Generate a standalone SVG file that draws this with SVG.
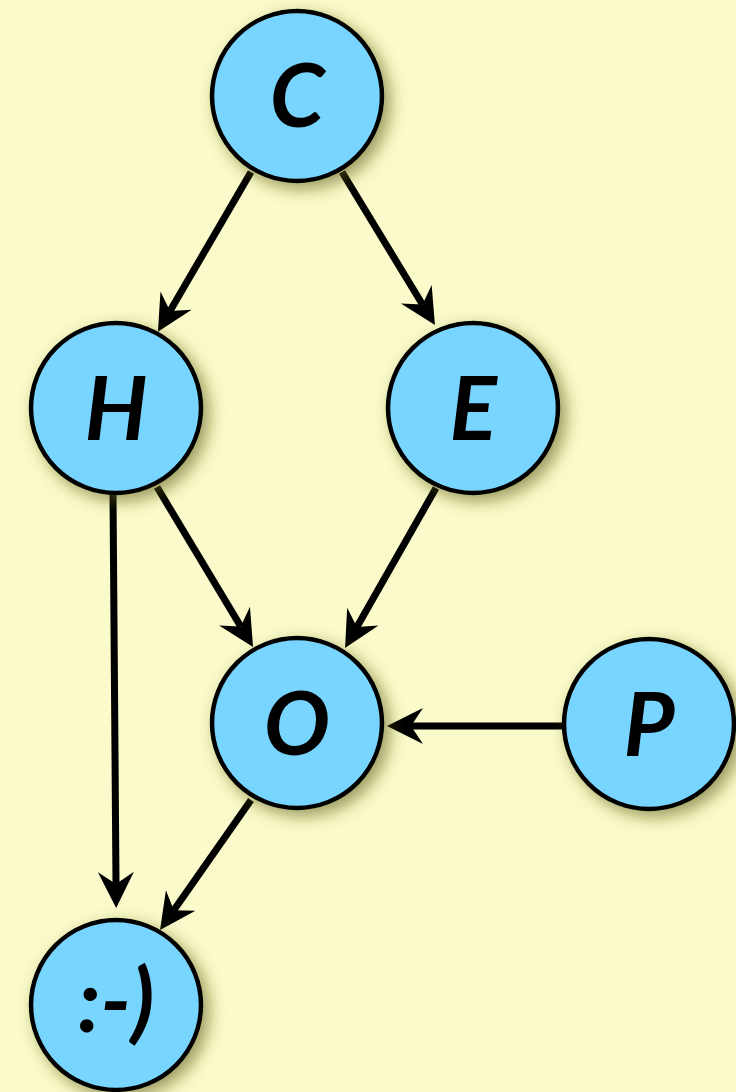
<svg xmlns="http://www.w3.org/2000/svg" width="736" height="1092" viewBox="0 0 736 1092">
<style>
.node{fill:#78d5ff;stroke:#000;stroke-width:4.5;filter:url(#sh)}
.lbl{font-family:Lato,"Open Sans","DejaVu Sans",sans-serif;font-weight:bold;font-style:italic;font-size:88px;fill:#000;text-anchor:middle}
.edge{stroke:#000;stroke-width:7;fill:none;marker-end:url(#ah)}
</style>
<defs>
<filter id="sh" x="-30%" y="-30%" width="160%" height="160%">
<feDropShadow dx="6" dy="6" stdDeviation="8" flood-color="#5a5a10" flood-opacity="0.6"/>
</filter>
<marker id="ah" markerUnits="userSpaceOnUse" refX="0" refY="0" markerWidth="80" markerHeight="80" orient="auto" overflow="visible">
<path d="M24,0 L-12,-18 L0,0 L-12,18 Z" fill="#000"/>
</marker>
</defs>
<rect width="736" height="1092" fill="#fafaca"/>
<g id="connectors">
<line class="edge" x1="251" y1="172" x2="170" y2="311"/>
<line class="edge" x1="342" y1="172" x2="422.5" y2="304.5"/>
<line class="edge" x1="157" y1="487" x2="240.7" y2="626.4"/>
<line class="edge" x1="436" y1="488" x2="356.9" y2="627.1"/>
<line class="edge" x1="563" y1="726" x2="411" y2="726"/>
<line class="edge" x1="113" y1="494" x2="116" y2="884"/>
<line class="edge" x1="251" y1="800" x2="173.8" y2="910.3"/>
</g>
<g id="C"><circle class="node" cx="297" cy="96" r="85"/><text class="lbl" x="297" y="127">C</text></g>
<g id="H"><circle class="node" cx="116" cy="408" r="85"/><text class="lbl" x="116" y="440">H</text></g>
<g id="E"><circle class="node" cx="473" cy="408" r="85"/><text class="lbl" x="473" y="440">E</text></g>
<g id="O"><circle class="node" cx="297" cy="723" r="85"/><text class="lbl" x="297" y="755">O</text></g>
<g id="P"><circle class="node" cx="649" cy="724" r="85"/><text class="lbl" x="649" y="756">P</text></g>
<g id="smile"><circle class="node" cx="116" cy="1005" r="85"/><text class="lbl" x="116" y="1032">:-)</text></g>
</svg>
